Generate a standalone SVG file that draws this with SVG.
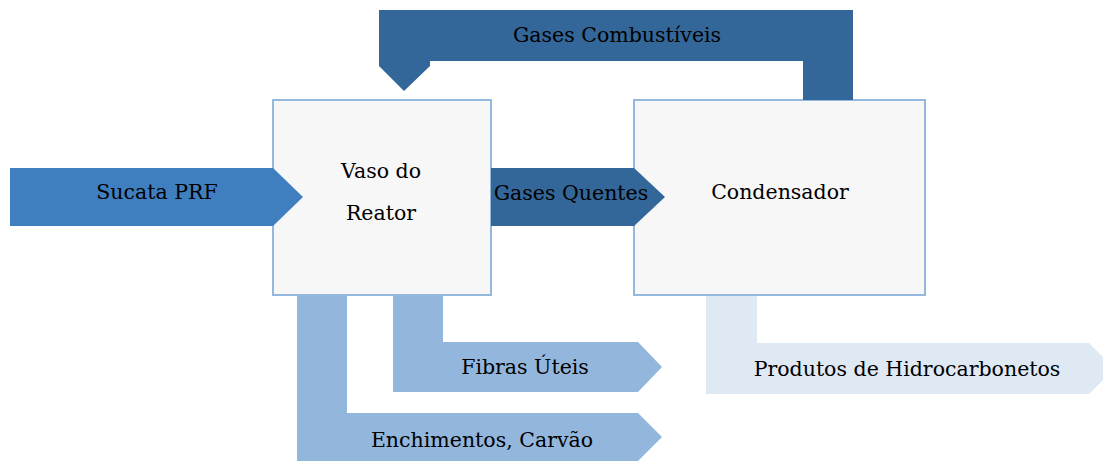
<svg xmlns="http://www.w3.org/2000/svg" width="1103" height="461" viewBox="0 0 1103 461">
<style>
.t{font-family:"DejaVu Serif","Liberation Serif",serif;font-size:20.5px;fill:#000;text-anchor:middle}
.box{fill:#f7f7f7;stroke:#95b8de;stroke-width:2}
.dark{fill:#336699}
.mid{fill:#3f7fc0}
.light{fill:#93b6dc}
.pale{fill:#dfe9f4}
</style>
<g id="node-reator">
<rect class="box" x="273" y="100" width="218" height="195"/>
</g>
<g id="node-condensador">
<rect class="box" x="634" y="100" width="291" height="195"/>
</g>
<g id="connectors">
<polygon class="dark" points="379,10 853,10 853,100 803,100 803,61 430,61 430,66 404,91 379,66"/>
<polygon class="mid" points="10,168 273,168 303,197 273,226 10,226"/>
<polygon class="dark" points="491,168 634,168 665,197 634,226 491,226"/>
<polygon class="light" points="297,296 347,296 347,413 638,413 662,437 638,461 297,461"/>
<polygon class="light" points="393,296 443,296 443,342 638,342 662,367 638,392 393,392"/>
<polygon class="pale" points="706,296 757,296 757,343 1089,343 1103,357 1103,380 1089,394 706,394"/>
</g>
<g id="labels">
<text class="t" x="617" y="42">Gases Combustíveis</text>
<text class="t" x="157" y="199">Sucata PRF</text>
<text class="t" x="381" y="178">Vaso do</text>
<text class="t" x="381" y="220">Reator</text>
<text class="t" x="780" y="199">Condensador</text>
<text class="t" x="571" y="200">Gases Quentes</text>
<text class="t" x="525" y="374">Fibras Úteis</text>
<text class="t" x="482" y="447">Enchimentos, Carvão</text>
<text class="t" x="907" y="376">Produtos de Hidrocarbonetos</text>
</g>
</svg>
